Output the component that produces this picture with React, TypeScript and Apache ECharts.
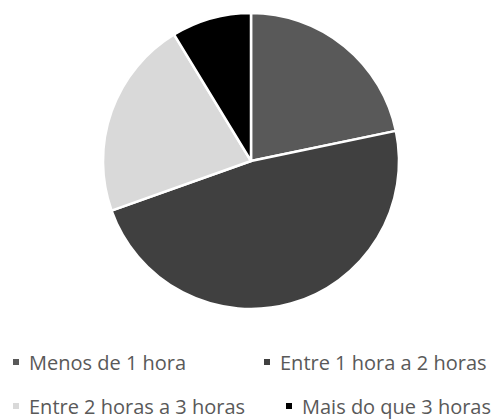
import React, { useEffect, useRef } from "react";
import * as echarts from "echarts";

const categories = [
  "Menos de 1 hora",
  "Entre 1 hora a 2 horas",
  "Entre 2 horas a 3 horas",
  "Mais do que 3 horas",
];
const values = [25, 55, 25, 10];
const colors = ["#595959", "#404040", "#d9d9d9", "#000000"];

const legendPos = [
  { left: 11, top: 351 },
  { left: 262, top: 351 },
  { left: 11, top: 395 },
  { left: 284, top: 395 },
];

export default function App() {
  const ref = useRef<HTMLDivElement>(null);
  useEffect(() => {
    if (!ref.current) return;
    const chart = echarts.init(ref.current, null, { renderer: "svg" });
    chart.setOption({
      animation: false,
      backgroundColor: "#ffffff",
      legend: categories.map((c, i) => ({
        data: [c],
        left: legendPos[i].left,
        top: legendPos[i].top,
        orient: "horizontal",
        padding: 0,
        itemWidth: 8,
        itemHeight: 8,
        icon: "rect",
        selectedMode: false,
        textStyle: {
          fontFamily: "Open Sans",
          fontSize: 20,
          lineHeight: 22,
          color: "#595959",
          padding: [0, 0, 0, 4],
        },
      })),
      series: [
        {
          type: "pie",
          center: [251, 161],
          radius: 148,
          startAngle: 90,
          clockwise: true,
          label: { show: false },
          labelLine: { show: false },
          emphasis: { disabled: true },
          itemStyle: { borderColor: "#ffffff", borderWidth: 2.5 },
          data: categories.map((c, i) => ({
            name: c,
            value: values[i],
            itemStyle: { color: colors[i] },
          })),
        },
      ],
    });
    return () => chart.dispose();
  }, []);
  return <div ref={ref} style={{ width: 495, height: 419, position: "absolute", left: 0, top: 0 }} />;
}
